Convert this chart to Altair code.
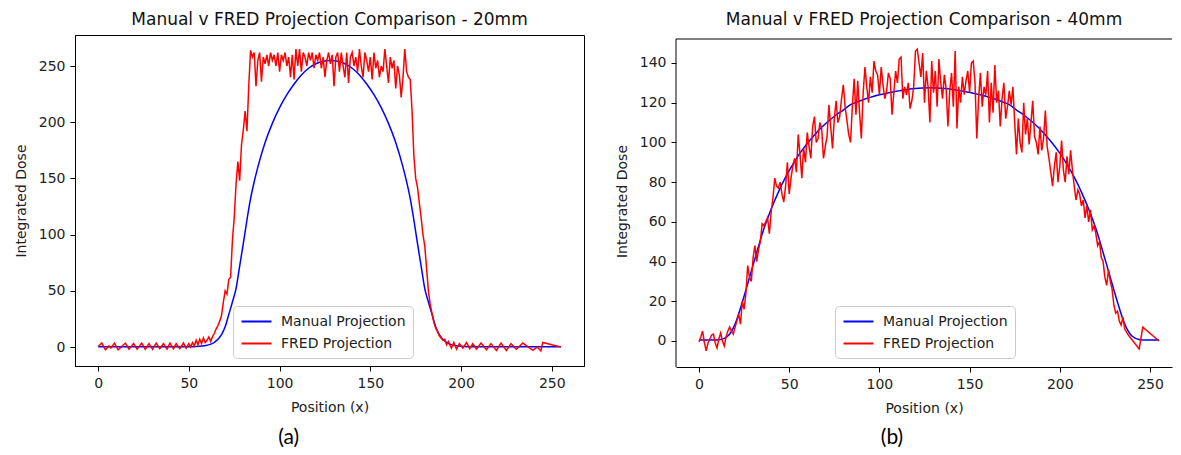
import altair as alt
import pandas as pd

SERIES = ["Manual Projection", "FRED Projection"]
COLORS = ["#0000ff", "#ff0000"]
X_TICKS = [0, 50, 100, 150, 200, 250]
Y_TICKS_A = [0, 50, 100, 150, 200, 250]
Y_TICKS_B = [0, 20, 40, 60, 80, 100, 120, 140]

# ---------------- Panel (a) : 20mm ----------------
manual_a_x = [0, 8, 16, 24, 32, 40, 48, 52, 56, 60, 64, 68, 70, 72, 74, 76, 78, 80, 82, 84,
              88, 92, 96, 100, 104, 108, 112, 116, 120, 124, 128, 132, 136, 140, 144, 148,
              152, 156, 160, 164, 168, 172, 174, 176, 178, 180, 182, 184, 186, 188, 192,
              196, 200, 204, 208, 216, 224, 232, 240, 248, 255]
manual_a_y = [0.2, 0.2, 0.2, 0.2, 0.2, 0.2, 0.2, 0.3, 0.7, 1.5, 4, 11, 18, 29, 40, 52, 72, 92, 113, 132,
              160, 182, 199, 213, 224.5, 234, 242, 248, 252, 254.3, 255, 254.3, 252, 248, 242, 234,
              224.5, 213, 199, 182, 160, 132, 113, 92, 72, 52, 40, 29, 18, 11, 4,
              1.5, 0.7, 0.3, 0.2, 0.2, 0.2, 0.2, 0.2, 0.2, 0.2]

fred_a_x = ([0, 2, 4, 6, 7, 9, 11, 13, 15, 17, 19.5, 21.5, 24, 26, 28, 30, 32, 34, 36, 38,
             39.5, 41.5, 43, 45, 47, 48.5, 50, 51]
            + list(range(52, 191))
            + [191, 192, 193, 194.7, 196, 197.5, 199, 201, 203, 204.8, 206.5, 208.5, 211, 214,
               216.5, 219.5, 222, 225, 227.5, 230.5, 234, 239.6, 242, 244, 245, 250, 255])
fred_a_y = ([0.5, 3.5, -2.5, 1, -1, 3.5, -2.5, 0.5, 3.5, -2, 3, -2, 3.5, -2, 3, -2, 3.5, -1.5, 3, -2,
             3.5, -1.5, 3, -1.5, 3.5, -1, 3, 0]
            # 52 - 62
            + [4, 1, 6, 2, 7, 3, 8, 4, 6, 9, 5]
            # 63 - 84
            + [9, 12, 16, 19, 23, 28, 40, 50, 47, 60, 62, 95, 115, 145, 165, 148, 180, 193, 210, 192, 232, 264]
            # 85 - 170
            + [258, 262, 232, 255, 262, 236, 258, 252, 260, 250,
               262, 255, 260, 250, 262, 245, 260, 255, 262, 250,
               258, 240, 260, 238, 265, 250, 265, 245, 262, 258,
               250, 262, 255, 262, 248, 260, 255, 262, 248, 258,
               240, 255, 262, 252, 260, 232, 258, 262, 245, 262,
               250, 240, 262, 235, 258, 262, 250, 258, 245, 265,
               250, 240, 262, 255, 245, 258, 238, 262, 248, 255,
               240, 250, 245, 265, 250, 235, 258, 248, 255, 230,
               250, 242, 222, 240, 265, 245]
            # 171 - 190
            + [240, 238, 210, 170, 150, 142, 128, 115, 100, 90, 70, 50, 38, 30, 22, 17, 14, 10, 8, 6]
            # tail
            + [7, 2, 5, -1, 4, -2, 3, -1, 4, -1.5, 3, -2, 3.5, -2.5,
               3, -3, 3.5, -3, 3, -2, 3.5, -3, 0, -3.5, 4, 2, 0])

# ---------------- Panel (b) : 40mm ----------------
manual_b_x = [0, 4, 8, 12, 16, 20, 24, 28, 32, 36, 40, 44, 48, 52, 56, 60, 64, 68, 72, 76, 80,
              84, 88, 92, 96, 100, 104, 108, 112, 116, 120, 124, 128, 132, 136, 140, 144, 148,
              152, 156, 160, 164, 168, 172, 176, 180, 184, 188, 192, 196, 200, 204, 208, 212,
              216, 220, 224, 228, 232, 236, 240, 244, 248, 252, 255]
manual_b_y = [0.5, 0.5, 0.5, 0.8, 2.5, 8.5, 19.5, 32, 44.6, 56.6, 66.5, 75, 82.5, 89, 94.6, 99.5,
              103.8, 107.6, 110.9, 113.8, 116.3, 119, 120.5, 121.9, 123, 124, 124.8, 125.5, 126.2,
              126.8, 127.2, 127.4, 127.5, 127.4, 127.2, 126.8, 126.2, 125.5, 124.8, 124, 123,
              121.9, 120.5, 119, 116.3, 113.8, 110.9, 107.6, 103.8, 99.5, 94.6, 89, 82.5, 75,
              66.5, 56.6, 44.6, 32, 19.5, 8.5, 2.5, 0.8, 0.5, 0.5, 0.5]

fred_b_x = list(range(0, 237)) + [238, 244, 246, 255]
fred_b_y = [-0.5, 2, 5, -1, -5, -1, 1, 3, 3.5, -1,
            -3.5, 1, 4, 0, -2.5, 2, 5, 7, 5, 3.5,
            7, 10, 13.5, 8.5, 20, 16, 24, 38, 32, 30,
            42, 48, 40, 46, 50, 59, 58, 60, 62, 54,
            65, 72, 82, 78, 77, 80, 74, 70, 78, 90,
            74, 82, 88, 92, 85, 104, 94, 82, 97, 90,
            105, 98, 92, 108, 113, 100, 102, 110, 107, 92,
            98, 103, 119, 108, 97, 112, 121, 110, 113, 122,
            129, 118, 111, 104, 100, 118, 132, 114, 131, 115,
            102, 125, 138, 128, 120, 133, 125, 141, 136, 134,
            124, 138, 129, 122, 126, 135, 132, 114, 125, 136,
            130, 142, 143, 122, 128, 124, 130, 117, 121, 128,
            146, 147, 140, 133, 145, 120, 136, 128, 110, 141,
            125, 136, 118, 142, 130, 122, 134, 127, 108, 126,
            135, 118, 146, 107, 128, 120, 133, 124, 131, 136,
            125, 140, 141, 130, 102, 122, 135, 118, 128, 124,
            136, 110, 130, 115, 139, 120, 126, 108, 122, 130,
            112, 118, 126, 119, 128, 110, 94, 112, 100, 95,
            120, 104, 112, 99, 110, 121, 103, 100, 94, 108,
            96, 102, 116, 98, 92, 85, 78, 88, 95, 80,
            88, 101, 86, 80, 93, 84, 96, 86, 78, 71,
            76, 74, 68, 71, 62, 68, 60, 66, 56, 58,
            54, 48, 50, 42, 40, 32, 28, 36, 30, 26,
            18, 14, 15, 10, 8, 12, 6,
            3, -4, 7, 0]

FONT = "DejaVu Sans"


def make_panel(title, xm, ym, xf, yf, xdom, ydom, yticks, w, h, legx, legy,
               caption, cap_x, cap_dy, frame_top=0, open_right=False):
    man = pd.DataFrame({"x": xm, "y": ym, "series": SERIES[0]})
    fred = pd.DataFrame({"x": xf, "y": yf, "series": SERIES[1]})
    xenc = alt.X("x:Q", scale=alt.Scale(domain=xdom, nice=False, zero=False),
                 axis=alt.Axis(values=X_TICKS, title="Position (x)", format="d"))
    yenc = alt.Y("y:Q", scale=alt.Scale(domain=ydom, nice=False, zero=False),
                 axis=alt.Axis(values=yticks, title="Integrated Dose", format="d",
                               domain=not open_right))
    color = alt.Color(
        "series:N",
        scale=alt.Scale(domain=SERIES, range=COLORS),
        legend=alt.Legend(
            title=None, orient="none", legendX=legx, legendY=legy,
            symbolType="M-2,0H2", symbolSize=225, symbolStrokeWidth=2,
            symbolOffset=8,
            labelFontSize=14, labelFont=FONT, labelColor="#222",
            labelOffset=16, padding=7, rowPadding=6,
            labelExpr="datum.label + '\u00a0\u00a0\u00a0'",
            strokeColor="#cccccc", fillColor="#ffffff", cornerRadius=4,
        ),
    )
    l_man = alt.Chart(man).mark_line(interpolate="monotone", strokeWidth=1.5).encode(
        x=xenc, y=yenc, color=color)
    l_fred = alt.Chart(fred).mark_line(strokeWidth=1.5).encode(
        x=xenc, y=yenc, color=color)
    cap = alt.Chart(pd.DataFrame({"t": [caption]})).mark_text(
        font="Lato", fontSize=21, color="#000", baseline="middle", align="center"
    ).encode(x=alt.datum(cap_x), y=alt.value(h + cap_dy), text="t:N")
    layers = [l_man, l_fred, cap]
    props = dict(width=w, height=h,
                 title=alt.TitleParams(title, fontSize=17, fontWeight="normal", font=FONT,
                                       color="#111", anchor="middle", offset=6))
    if open_right:
        frame = pd.DataFrame({"k": [0]})
        top = alt.Chart(frame).mark_rule(color="#000", strokeWidth=1).encode(
            y=alt.value(frame_top), x=alt.value(0), x2=alt.value(w))
        left = alt.Chart(frame).mark_rule(color="#000", strokeWidth=1).encode(
            x=alt.value(0), y=alt.value(frame_top), y2=alt.value(h))
        layers += [top, left]
        props["view"] = alt.ViewBackground(stroke=None)
    return alt.layer(*layers).properties(**props)


panel_a = make_panel("Manual v FRED Projection Comparison - 20mm",
                     manual_a_x, manual_a_y, fred_a_x, fred_a_y,
                     [-12.75, 267.75], [-16.9, 277.6], Y_TICKS_A,
                     509, 331, 158, 271, "(a)", 105, 72)
panel_b = make_panel("Manual v FRED Projection Comparison - 40mm",
                     manual_b_x, manual_b_y, fred_b_x, fred_b_y,
                     [-12.75, 262.2], [-13.1, 154.1], Y_TICKS_B,
                     496, 332, 159, 271, "(b)", 107, 71, frame_top=4, open_right=True)

chart = alt.hconcat(panel_a, panel_b, spacing=30).resolve_scale(
    x="independent", y="independent", color="independent"
).resolve_legend(color="independent").properties(
    padding={"left": 5, "top": 2, "right": 0, "bottom": 0},
    background="#ffffff",
).configure_view(stroke="#000", strokeWidth=1).configure_axis(
    grid=False, domain=True, domainColor="#000", domainWidth=1,
    ticks=True, tickColor="#000", tickSize=5, tickWidth=1,
    labelFont=FONT, labelFontSize=14, labelColor="#222", labelPadding=5,
    titleFont=FONT, titleFontSize=14, titleFontWeight="normal", titleColor="#222",
    titlePadding=10,
)

chart.save("out.html", embed_options={"renderer": "svg", "actions": False})
